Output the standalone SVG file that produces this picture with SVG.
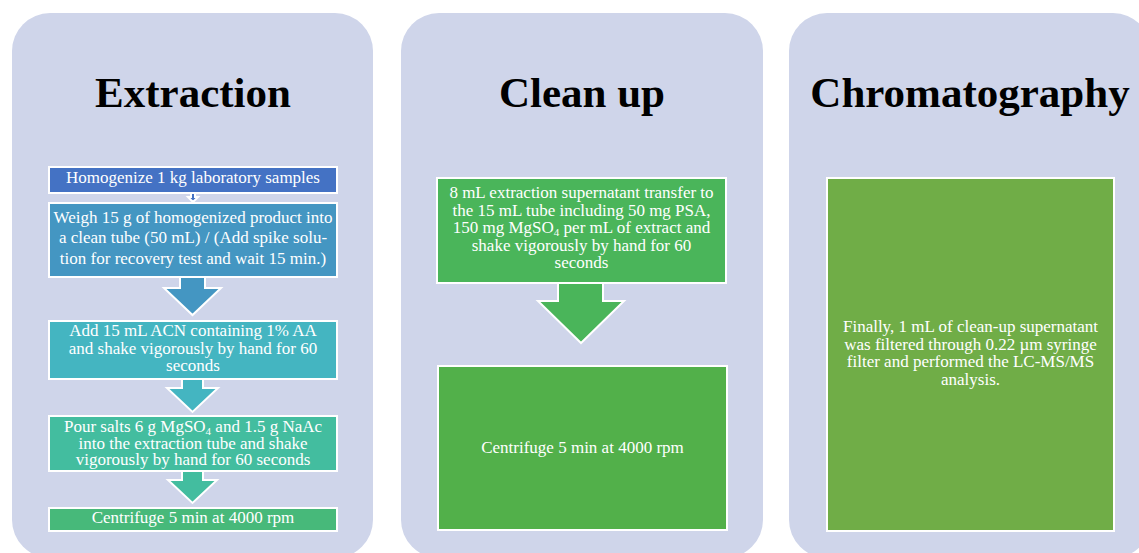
<svg xmlns="http://www.w3.org/2000/svg" width="1139" height="553" viewBox="0 0 1139 553">
<style>
.panel{fill:#CFD5EA}
.title{font-family:"Liberation Serif","Times New Roman",serif;font-weight:bold;font-size:43px;fill:#000;text-anchor:middle}
.box{stroke:#fff;stroke-width:2}
.arr{stroke:#fff;stroke-width:2;stroke-linejoin:miter}
.t{font-family:"Liberation Serif","Times New Roman",serif;font-size:17px;fill:#fff;text-anchor:middle}
.sub{font-size:11px}
</style>
<rect width="1139" height="553" fill="#fff"/>
<g id="panel-extraction">
<rect class="panel" x="12" y="13" width="361" height="545" rx="38" ry="38"/>
<text class="title" x="193" y="107">Extraction</text>
</g>
<g id="panel-cleanup">
<rect class="panel" x="401" y="13" width="362" height="545" rx="38" ry="38"/>
<text class="title" x="582" y="107">Clean up</text>
</g>
<g id="panel-chromatography">
<rect class="panel" x="789" y="13" width="362" height="545" rx="38" ry="38"/>
<text class="title" x="970" y="107">Chromatography</text>
</g>
<g id="connectors">
<polygon class="arr" fill="#4472C4" points="191,192 195,192 195,197 198,197 193,202 188,197 191,197"/>
<polygon class="arr" fill="#4496C2" points="180,276 205,276 205,288 221,288 192.5,315 164,288 180,288"/>
<polygon class="arr" fill="#44B5C1" points="182,378 203,378 203,388 218,388 192.5,412 167,388 182,388"/>
<polygon class="arr" fill="#43BD9F" points="182,470 203,470 203,480 217,480 192.5,503 168,480 182,480"/>
<polygon class="arr" fill="#4AB55A" points="558,282 603,282 603,301 624,301 581,343 538,301 558,301"/>
</g>
<g id="step-homogenize">
<rect class="box" fill="#4472C4" x="49" y="167" width="288" height="26"/>
<text class="t" x="193" y="183">Homogenize 1 kg laboratory samples</text>
</g>
<g id="step-weigh">
<rect class="box" fill="#4496C2" x="49" y="203" width="288" height="74"/>
<text class="t" x="193" y="222.5">Weigh 15 g of homogenized product into</text>
<text class="t" x="193" y="243">a clean tube (50 mL) / (Add spike solu-</text>
<text class="t" x="193" y="263.5">tion for recovery test and wait 15 min.)</text>
</g>
<g id="step-acn">
<rect class="box" fill="#44B5C1" x="49" y="321" width="288" height="58"/>
<text class="t" x="193" y="336">Add 15 mL ACN containing 1% AA</text>
<text class="t" x="193" y="353.5">and shake vigorously by hand for 60</text>
<text class="t" x="193" y="371">seconds</text>
</g>
<g id="step-salts">
<rect class="box" fill="#43BD9F" x="49" y="416" width="288" height="55"/>
<text class="t" x="193" y="432">Pour salts 6 g MgSO<tspan class="sub" dy="3">4</tspan><tspan dy="-3"> and 1.5 g NaAc</tspan></text>
<text class="t" x="193" y="448.5">into the extraction tube and shake</text>
<text class="t" x="193" y="465">vigorously by hand for 60 seconds</text>
</g>
<g id="step-centrifuge-1">
<rect class="box" fill="#47B97A" x="49" y="508" width="288" height="23"/>
<text class="t" x="193" y="523">Centrifuge 5 min at 4000 rpm</text>
</g>
<g id="step-transfer">
<rect class="box" fill="#4AB55A" x="437" y="178" width="289" height="105"/>
<text class="t" x="581.5" y="198">8 mL extraction supernatant transfer to</text>
<text class="t" x="581.5" y="215.5">the 15 mL tube including 50 mg PSA,</text>
<text class="t" x="581.5" y="233">150 mg MgSO<tspan class="sub" dy="3">4</tspan><tspan dy="-3"> per mL of extract and</tspan></text>
<text class="t" x="581.5" y="250.5">shake vigorously by hand for 60</text>
<text class="t" x="581.5" y="268">seconds</text>
</g>
<g id="step-centrifuge-2">
<rect class="box" fill="#52B04A" x="438" y="366" width="289" height="164"/>
<text class="t" x="582.5" y="453">Centrifuge 5 min at 4000 rpm</text>
</g>
<g id="step-lcms">
<rect class="box" fill="#70AD47" x="827" y="178" width="287" height="353"/>
<text class="t" x="970.5" y="332">Finally, 1 mL of clean-up supernatant</text>
<text class="t" x="970.5" y="349.5">was filtered through 0.22 µm syringe</text>
<text class="t" x="970.5" y="367">filter and performed the LC-MS/MS</text>
<text class="t" x="970.5" y="384.5">analysis.</text>
</g>
</svg>
